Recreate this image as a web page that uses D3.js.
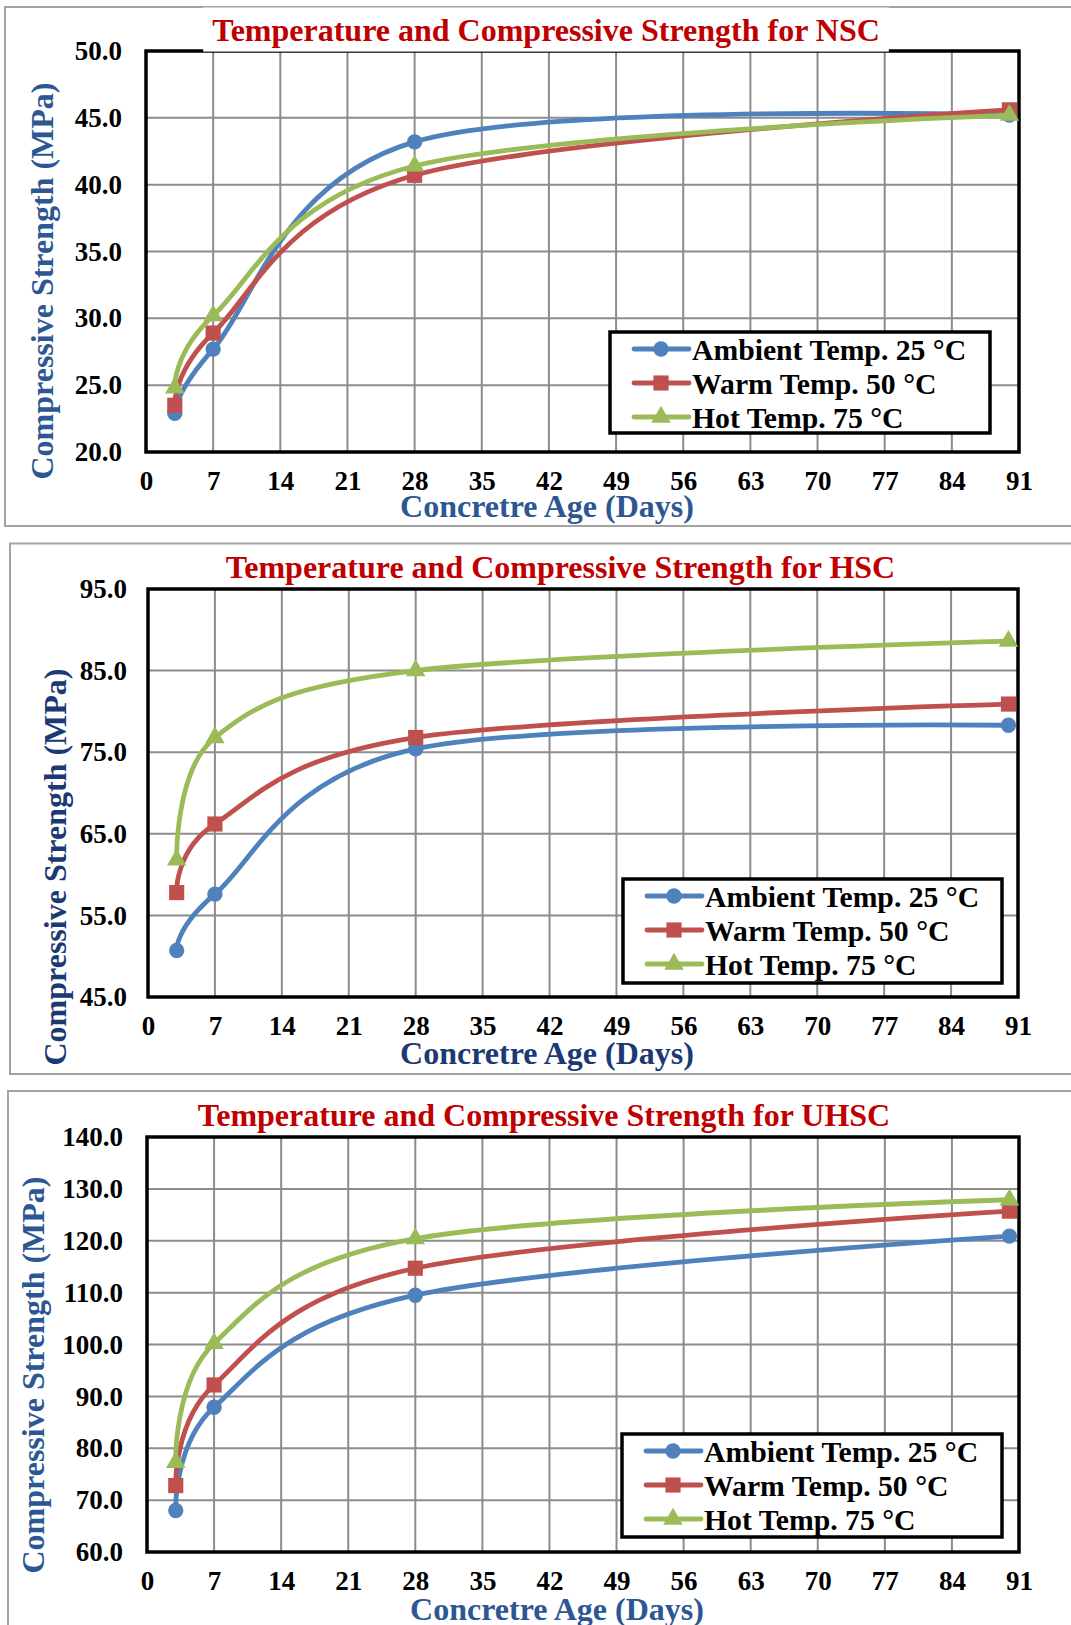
<!DOCTYPE html>
<html>
<head>
<meta charset="utf-8">
<script src="https://cdn.jsdelivr.net/npm/d3@7"></script>
<style>
  body { margin: 0; background: #fff; }
  svg text { font-family: "Liberation Serif", "Times New Roman", serif; font-weight: bold; }
</style>
</head>
<body>
<svg id="chart" width="1071" height="1625"></svg>
<script>
// data
const days = [3, 7, 28, 90];
const xTicks = [0, 7, 14, 21, 28, 35, 42, 49, 56, 63, 70, 77, 84, 91];
const seriesNames = ['Ambient Temp. 25 °C', 'Warm Temp. 50 °C', 'Hot Temp. 75 °C'];
const seriesColors = ['#4F81BD', '#C0504D', '#9BBB59'];
const seriesMarkers = ['circle', 'square', 'triangle'];

const nscAmbient = [22.9, 27.7, 43.2, 45.2];
const nscWarm = [23.5, 28.9, 40.7, 45.6];
const nscHot = [24.8, 30.2, 41.4, 45.2];
const nscTicks = [20, 25, 30, 35, 40, 45, 50];

const hscAmbient = [50.7, 57.6, 75.4, 78.3];
const hscWarm = [57.8, 66.2, 76.8, 80.9];
const hscHot = [61.8, 76.8, 85.0, 88.6];
const hscTicks = [45, 55, 65, 75, 85, 95];

const uhscAmbient = [68.0, 87.9, 109.5, 120.9];
const uhscWarm = [72.8, 92.2, 114.7, 125.7];
const uhscHot = [77.3, 100.2, 120.4, 127.9];
const uhscTicks = [60, 70, 80, 90, 100, 110, 120, 130, 140];

class Panel {
    constructor(svg, opts) {
        this.svg = svg;
        this.o = opts;
        this.g = svg.append('g');

        this.x = d3.scaleLinear()
            .domain([0, 91])
            .range([opts.plot.x0, opts.plot.x1]);
        this.y = d3.scaleLinear()
            .domain(d3.extent(opts.yTicks))
            .range([opts.plot.y1, opts.plot.y0]);

        this.drawFrame();
        this.drawGrid();
        this.drawAxes();
        this.drawSeries();
        this.drawTitle();
        this.drawLegend();
    }

    drawFrame() {
        const b = this.o.box;
        this.g.append('rect')
            .attr('x', b.x).attr('y', b.y)
            .attr('width', b.w).attr('height', b.h)
            .attr('fill', '#fff')
            .attr('stroke', '#a3a3a3')
            .attr('stroke-width', 2);
    }

    drawGrid() {
        const p = this.o.plot;
        this.g.append('g').selectAll('line')
            .data(xTicks)
            .join('line')
            .attr('x1', d => this.x(d)).attr('x2', d => this.x(d))
            .attr('y1', p.y0).attr('y2', p.y1)
            .attr('stroke', '#8c8c8c')
            .attr('stroke-width', 2);

        this.g.append('g').selectAll('line')
            .data(this.o.yTicks)
            .join('line')
            .attr('x1', p.x0).attr('x2', p.x1)
            .attr('y1', d => this.y(d)).attr('y2', d => this.y(d))
            .attr('stroke', '#8c8c8c')
            .attr('stroke-width', 2);

        this.g.append('rect')
            .attr('x', p.x0).attr('y', p.y0)
            .attr('width', p.x1 - p.x0).attr('height', p.y1 - p.y0)
            .attr('fill', 'none')
            .attr('stroke', '#000')
            .attr('stroke-width', 3.5);
    }

    drawAxes() {
        const p = this.o.plot;
        const yAxis = this.g.append('g')
            .attr('transform', `translate(${p.x0},0)`)
            .call(d3.axisLeft(this.y)
                .tickValues(this.o.yTicks)
                .tickFormat(d3.format('.1f'))
                .tickSize(0)
                .tickPadding(this.o.yPad));
        const xAxis = this.g.append('g')
            .attr('transform', `translate(0,${p.y1})`)
            .call(d3.axisBottom(this.x)
                .tickValues(xTicks)
                .tickSize(0)
                .tickPadding(19));

        for (const a of [xAxis, yAxis]) {
            a.select('.domain').remove();
            a.attr('font-family', null).attr('font-size', null);
            a.selectAll('text')
                .attr('fill', '#000')
                .style('font-size', '27px');
        }

        // axis titles
        this.g.append('text')
            .attr('x', this.o.xTitle.x)
            .attr('y', this.o.xTitle.y)
            .attr('text-anchor', 'middle')
            .attr('fill', this.o.axisColor)
            .style('font-size', '32px')
            .text('Concretre Age (Days)');

        this.g.append('text')
            .attr('transform', `translate(${this.o.yTitle.x},${this.o.yTitle.y}) rotate(-90)`)
            .attr('text-anchor', 'middle')
            .attr('fill', this.o.axisColor)
            .style('font-size', '32px')
            .text('Compressive Strength (MPa)');
    }

    marker(sel, type, color) {
        const sym = {
            circle: d3.symbol(d3.symbolCircle, 185),
            square: d3.symbol(d3.symbolSquare, 230),
            triangle: d3.symbol(d3.symbolTriangle, 165)
        }[type];
        sel.attr('d', sym()).attr('fill', color);
    }

    drawSeries() {
        const line = d3.line()
            .x((d, i) => this.x(days[i]))
            .y(d => this.y(d))
            .curve(d3.curveCardinal.tension(0));

        // Excel order: each series line, then its markers
        this.o.series.forEach((vals, s) => {
            this.g.append('path')
                .datum(vals)
                .attr('d', line)
                .attr('fill', 'none')
                .attr('stroke', seriesColors[s])
                .attr('stroke-width', 4.8)
                .attr('stroke-linecap', 'round')
                .attr('stroke-linejoin', 'round');

            this.g.append('g').selectAll('path')
                .data(vals)
                .join('path')
                .attr('transform', (d, i) => `translate(${this.x(days[i])},${this.y(d)})`)
                .call(sel => this.marker(sel, seriesMarkers[s], seriesColors[s]));
        });
    }

    drawTitle() {
        const t = this.o.title;
        const txt = this.g.append('text')
            .attr('x', t.x)
            .attr('y', t.y)
            .attr('text-anchor', 'middle')
            .attr('fill', '#c00000')
            .style('font-size', '32px')
            .text(t.text);

        if (t.mask) {
            const bb = txt.node().getBBox();
            this.g.insert('rect', () => txt.node())
                .attr('x', bb.x - 9)
                .attr('y', bb.y - 4)
                .attr('width', bb.width + 18)
                .attr('height', t.mask - bb.y + 4)
                .attr('fill', '#fff');
        }
    }

    drawLegend() {
        const L = this.o.legend;
        const lg = this.g.append('g')
            .attr('transform', `translate(${L.x},${L.y})`);

        lg.append('rect')
            .attr('width', L.w).attr('height', L.h)
            .attr('fill', '#fff')
            .attr('stroke', '#000')
            .attr('stroke-width', 3.5);

        const rows = lg.selectAll('g.row')
            .data(seriesNames)
            .join('g')
            .attr('class', 'row')
            .attr('transform', (d, i) => `translate(0,${17 + i * 34})`);

        rows.append('line')
            .attr('x1', 24).attr('x2', 79)
            .attr('stroke', (d, i) => seriesColors[i])
            .attr('stroke-width', 4.8)
            .attr('stroke-linecap', 'round');

        rows.append('path')
            .attr('transform', 'translate(51,0)')
            .each((d, i, nodes) => this.marker(d3.select(nodes[i]), seriesMarkers[i], seriesColors[i]));

        rows.append('text')
            .attr('x', 82)
            .attr('y', 10.5)
            .attr('fill', '#000')
            .style('font-size', '29.7px')
            .text(d => d);
    }
}

const svg = d3.select('#chart');

new Panel(svg, {
    box: {x: 5, y: 7, w: 1080, h: 519},
    plot: {x0: 146, x1: 1019, y0: 51, y1: 452},
    yTicks: nscTicks,
    yPad: 24,
    series: [nscAmbient, nscWarm, nscHot],
    title: {text: 'Temperature and Compressive Strength for NSC', x: 546, y: 40.5, mask: 51.6},
    xTitle: {x: 547, y: 517},
    yTitle: {x: 53, y: 281},
    axisColor: '#2c5792',
    legend: {x: 610, y: 332, w: 380, h: 101}
});

new Panel(svg, {
    box: {x: 10, y: 543.5, w: 1080, h: 530.5},
    plot: {x0: 148, x1: 1018, y0: 589, y1: 997},
    yTicks: hscTicks,
    yPad: 21,
    series: [hscAmbient, hscWarm, hscHot],
    title: {text: 'Temperature and Compressive Strength for HSC', x: 560.5, y: 578},
    xTitle: {x: 547, y: 1064},
    yTitle: {x: 65.5, y: 867},
    axisColor: '#1b3a74',
    legend: {x: 623, y: 879, w: 379, h: 104}
});

new Panel(svg, {
    box: {x: 8, y: 1091, w: 1080, h: 600},
    plot: {x0: 147, x1: 1019, y0: 1137, y1: 1552},
    yTicks: uhscTicks,
    yPad: 24,
    series: [uhscAmbient, uhscWarm, uhscHot],
    title: {text: 'Temperature and Compressive Strength for UHSC', x: 544, y: 1125.5},
    xTitle: {x: 557, y: 1620},
    yTitle: {x: 43.5, y: 1375},
    axisColor: '#2c5792',
    legend: {x: 622, y: 1434, w: 380, h: 103}
});
</script>
</body>
</html>
